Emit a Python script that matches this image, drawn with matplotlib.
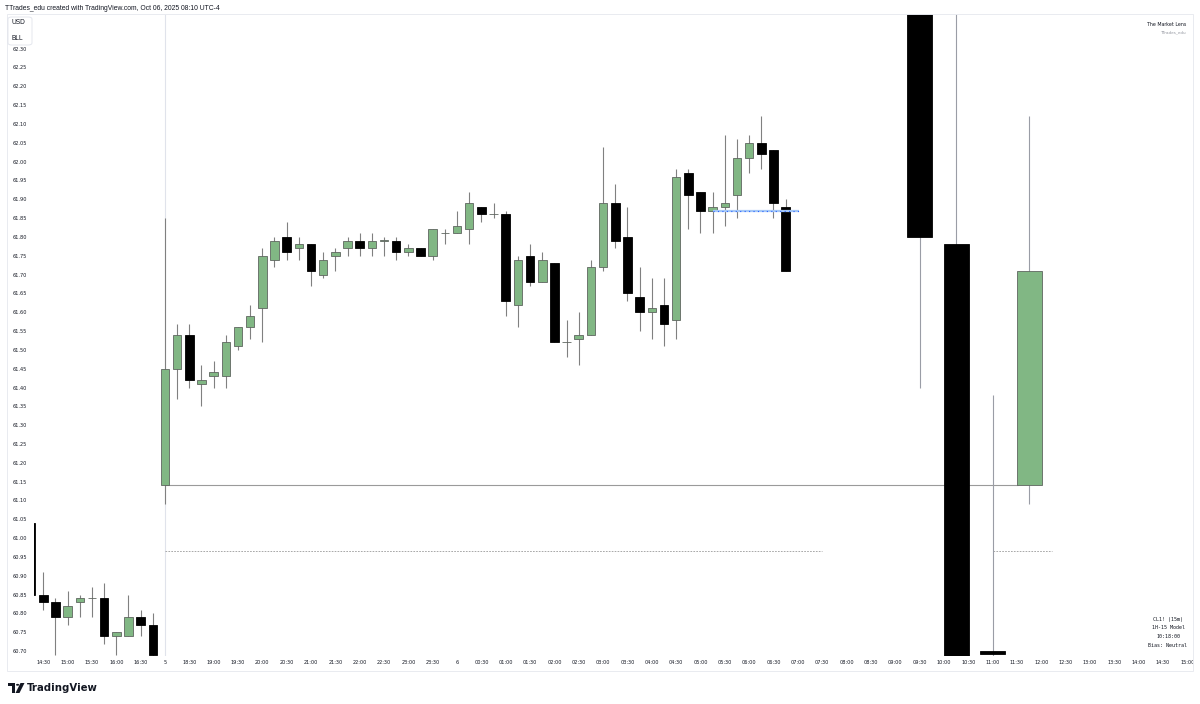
import matplotlib

matplotlib.use("Agg")
import matplotlib.pyplot as plt
from matplotlib.patches import Circle, FancyBboxPatch, Polygon, Rectangle

# CL1! 15m bars, slot 0 = 14:30 Fri, slot 10 = 18:00 Sun open, slot 34 = 00:00 Mon
slots = list(range(-1, 62))
opens = [61.04, 60.85, 60.83, 60.79, 60.83, 60.84, 60.84, 60.74, 60.74, 60.79, 60.77,
         61.14, 61.45, 61.54, 61.41, 61.43, 61.43, 61.51, 61.56, 61.61, 61.74,
         61.80, 61.77, 61.78, 61.70, 61.75, 61.77, 61.79, 61.77, 61.79, 61.79,
         61.76, 61.77, 61.75, 61.81, 61.81, 61.82, 61.88, 61.86, 61.86, 61.62,
         61.75, 61.68, 61.73, 61.52, 61.53, 61.54, 61.72, 61.89, 61.80, 61.64,
         61.60, 61.62, 61.58, 61.97, 61.92, 61.87, 61.88, 61.91, 62.01, 62.05,
         62.03, 61.88]
highs = [61.05, 60.91, 60.84, 60.86, 60.85, 60.87, 60.88, 60.75, 60.85, 60.81, 60.80,
         61.85, 61.57, 61.57, 61.46, 61.47, 61.54, 61.56, 61.62, 61.77, 61.80,
         61.84, 61.80, 61.78, 61.76, 61.77, 61.80, 61.81, 61.81, 61.80, 61.80,
         61.78, 61.77, 61.82, 61.82, 61.87, 61.92, 61.88, 61.89, 61.87, 61.75,
         61.78, 61.76, 61.73, 61.58, 61.60, 61.74, 62.04, 61.94, 61.88, 61.72,
         61.69, 61.69, 61.98, 61.98, 61.92, 61.92, 62.07, 62.06, 62.07, 62.12,
         62.03, 61.90]
lows = [60.84, 60.81, 60.69, 60.77, 60.79, 60.79, 60.72, 60.69, 60.74, 60.74, 60.68,
        61.09, 61.37, 61.40, 61.35, 61.40, 61.40, 61.50, 61.53, 61.52, 61.72,
        61.74, 61.74, 61.67, 61.69, 61.71, 61.75, 61.75, 61.75, 61.75, 61.74,
        61.75, 61.75, 61.74, 61.78, 61.81, 61.78, 61.84, 61.85, 61.59, 61.56,
        61.67, 61.68, 61.52, 61.48, 61.46, 61.54, 61.71, 61.77, 61.63, 61.55,
        61.53, 61.51, 61.53, 61.82, 61.81, 61.81, 61.83, 61.85, 61.97, 61.98,
        61.85, 61.71]
closes = [60.85, 60.83, 60.79, 60.82, 60.84, 60.84, 60.74, 60.75, 60.79, 60.77, 60.69,
          61.45, 61.54, 61.42, 61.42, 61.44, 61.52, 61.56, 61.59, 61.75, 61.79,
          61.76, 61.78, 61.71, 61.74, 61.76, 61.79, 61.77, 61.79, 61.79, 61.76,
          61.77, 61.75, 61.82, 61.81, 61.83, 61.89, 61.86, 61.86, 61.63, 61.74,
          61.68, 61.74, 61.52, 61.52, 61.54, 61.72, 61.89, 61.79, 61.65, 61.60,
          61.61, 61.57, 61.96, 61.91, 61.87, 61.88, 61.89, 62.01, 62.05, 62.02,
          61.89, 61.71]

# projected higher timeframe candles on the right
htf_slots = [72, 75, 78, 81]
htf_opens = [62.60, 61.78, 60.700, 61.14]
htf_highs = [62.70, 62.70, 61.38, 62.12]
htf_lows = [61.40, 60.40, 60.40, 61.09]
htf_closes = [61.80, 60.50, 60.692, 61.71]

open_level = 61.14
mid_level = 60.965
blue_level = 61.87

price_ticks = [62.30, 62.25, 62.20, 62.15, 62.10, 62.05, 62.00, 61.95, 61.90, 61.85,
               61.80, 61.75, 61.70, 61.65, 61.60, 61.55, 61.50, 61.45, 61.40, 61.35,
               61.30, 61.25, 61.20, 61.15, 61.10, 61.05, 61.00, 60.95, 60.90, 60.85,
               60.80, 60.75, 60.70]
time_labels = ["14:30", "15:00", "15:30", "16:00", "16:30", "5", "18:30", "19:00",
               "19:30", "20:00", "20:30", "21:00", "21:30", "22:00", "22:30", "23:00",
               "23:30", "6", "00:30", "01:00", "01:30", "02:00", "02:30", "03:00",
               "03:30", "04:00", "04:30", "05:00", "05:30", "06:00", "06:30", "07:00",
               "07:30", "08:00", "08:30", "09:00", "09:30", "10:00", "10:30", "11:00",
               "11:30", "12:00", "12:30", "13:00", "13:30", "14:00", "14:30", "15:00"]
time_slots = list(range(0, 96, 2))

table_lines = ["CL1! (15m)", "1H-15 Model", "10:18:00", "Bias: Neutral"]

GREEN = "#81b784"
TEXT = "#131722"
W, H = 1200, 704


def px(x, y):
    # pixel coords (top-left origin) -> figure fraction
    return x / W, 1 - y / H


def draw_candles(ax, xs, o, h, l, c, width, wick="#808080", wick_lw=0.8):
    for x, op, hi, lo, cl in zip(xs, o, h, l, c):
        up = cl >= op
        ax.vlines(x, lo, hi, color=wick, lw=wick_lw, zorder=2)
        body = max(abs(cl - op), 0.0015)
        ax.bar(x, body, width=width, bottom=min(op, cl),
               color=GREEN if up else "black",
               edgecolor="#5f6660" if up else "black", linewidth=0.6, zorder=3)


fig = plt.figure(figsize=(12, 7.04), dpi=100)
fig.patch.set_facecolor("white")

l, b = px(34, 656)
r, t = px(1193, 14)
ax = fig.add_axes([l, b, r - l, t - b])
ax.set_xlim(-0.76, 94.47)
ax.set_ylim(60.687, 62.392)
for s in ax.spines.values():
    s.set_visible(False)

# session break
ax.axvline(10, color="#e0e3eb", lw=0.8, zorder=1)

draw_candles(ax, slots, opens, highs, lows, closes, 0.7)
draw_candles(ax, htf_slots, htf_opens, htf_highs, htf_lows, htf_closes, 2.05,
             wick="#9a9da6")

ax.hlines(open_level, 10, 80.1, color="#9a9a9a", lw=0.8, zorder=1)
ax.hlines(mid_level, 10, 64.0, color="#9a9a9a", lw=0.6, ls=(0, (2, 1.5)), zorder=1)
ax.hlines(mid_level, 78, 82.9, color="#9a9a9a", lw=0.6, ls=(0, (2, 1.5)), zorder=1)
ax.hlines(blue_level, 55.0, 62.1, color="#a5c8f7", lw=1.6, zorder=4)
ax.hlines(blue_level, 55.0, 62.1, color="#2962ff", lw=0.8, ls=(0, (1, 3)), zorder=4)

ax.set_yticks(price_ticks)
ax.set_yticklabels([f"{p:.2f}" for p in price_ticks])
ax.set_xticks(time_slots)
ax.set_xticklabels(time_labels)
ax.tick_params(axis="y", length=0, labelsize=3.6, labelcolor=TEXT, pad=5)
ax.tick_params(axis="x", length=0, labelsize=3.6, labelcolor=TEXT, pad=3)

# outer frame
x0, y0 = px(7, 671)
x1, y1 = px(1193, 14)
fig.add_artist(Rectangle((x0, y0), x1 - x0, y1 - y0, transform=fig.transFigure,
                         fill=False, edgecolor="#e9ebf0", lw=0.7))

# currency box
bx, by = px(8, 45)
bw, bh = 24 / W, 28 / H
fig.add_artist(FancyBboxPatch((bx, by), bw, bh, boxstyle="round,pad=0,rounding_size=0.003",
                              transform=fig.transFigure, facecolor="white",
                              edgecolor="#e0e3eb", lw=0.6, zorder=5))
fig.text(*px(12, 23), "USD", fontsize=4.8, family="Liberation Sans", color=TEXT,
         va="center", zorder=6)
fig.text(*px(12, 38), "BLL", fontsize=4.8, family="Liberation Sans", color=TEXT,
         va="center", zorder=6)

fig.text(*px(5, 8), "TTrades_edu created with TradingView.com, Oct 06, 2025 08:10 UTC-4",
         fontsize=4.9, family="Liberation Sans", color=TEXT, va="center")

fig.text(*px(1186, 24), "The Market Lens", fontsize=3.4, color=TEXT, ha="right", va="center")
fig.text(*px(1186, 32), "TTrades_edu", fontsize=3.0, color="#9598a1", ha="right", va="center")

for i, line in enumerate(table_lines):
    fig.text(*px(1168, 619 + i * 8.7), line, fontsize=3.6, family="DejaVu Sans Mono",
             color=TEXT, ha="center", va="center")

# TradingView logo
logo = [(8, 683), (15, 683), (15, 693), (12, 693), (12, 686), (8, 686)]
fig.add_artist(Polygon([px(*p) for p in logo], closed=True, transform=fig.transFigure,
                       facecolor=TEXT, edgecolor="none"))
fig.add_artist(Circle(px(17.6, 684.8), 1.6 / W, transform=fig.transFigure,
                      facecolor=TEXT, edgecolor="none"))
slash = [(20.5, 683), (24.5, 683), (19.5, 693), (15.5, 693)]
fig.add_artist(Polygon([px(*p) for p in slash], closed=True, transform=fig.transFigure,
                       facecolor=TEXT, edgecolor="none"))
fig.text(*px(27, 688), "TradingView", fontsize=7.3, fontweight="bold", color=TEXT,
         va="center")

fig.savefig("out.png", dpi=100, facecolor="white")
